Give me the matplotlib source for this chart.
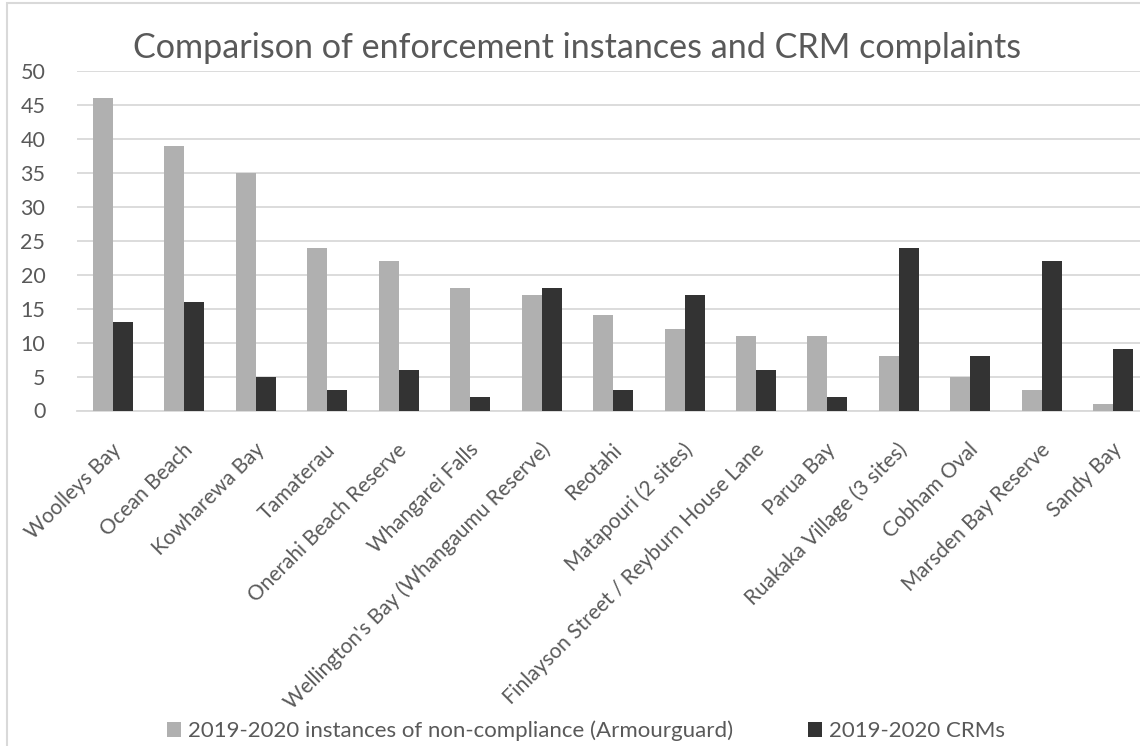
import matplotlib
matplotlib.use("Agg")
import matplotlib.pyplot as plt
import matplotlib.transforms as mtransforms
import numpy as np
from matplotlib.patches import Rectangle

categories = ["Woolleys Bay", "Ocean Beach", "Kowharewa Bay", "Tamaterau",
              "Onerahi Beach Reserve", "Whangarei Falls",
              "Wellington's Bay (Whangaumu Reserve)", "Reotahi",
              "Matapouri (2 sites)", "Finlayson Street / Reyburn House Lane",
              "Parua Bay", "Ruakaka Village (3 sites)", "Cobham Oval",
              "Marsden Bay Reserve", "Sandy Bay"]
noncompliance = [46, 39, 35, 24, 22, 18, 17, 14, 12, 11, 11, 8, 5, 3, 1]
crms = [13, 16, 5, 3, 6, 2, 18, 3, 17, 6, 2, 24, 8, 22, 9]
series_labels = ["2019-2020 instances of non-compliance (Armourguard)", "2019-2020 CRMs"]
yticks = [0, 5, 10, 15, 20, 25, 30, 35, 40, 45, 50]

plt.rcParams['font.family'] = ['Lato', 'DejaVu Sans']
txt = "#595959"
W, H = 1140, 746

fig = plt.figure(figsize=(W/100, H/100), dpi=100)
L, R, T, B = 77.3, 1148.9, 71, 410.5
ax = fig.add_axes([L/W, 1 - B/H, (R - L)/W, (B - T)/H])

x = np.arange(len(categories))
w = 0.28
ax.bar(x - w/2, noncompliance, w, color="#b0b0b0", label=series_labels[0], zorder=3)
ax.bar(x + w/2, crms, w, color="#333333", label=series_labels[1], zorder=3)

ax.set_xlim(-0.5, len(categories) - 0.5)
ax.set_ylim(0, 50)
ax.set_yticks(yticks)
ax.set_yticklabels([str(v) for v in yticks], fontsize=15.5, color=txt)
ax.yaxis.grid(True, color="#d9d9d9", linewidth=1.3, zorder=0)
ax.set_axisbelow(True)
for s in ["top", "right", "left"]:
    ax.spines[s].set_visible(False)
ax.spines["bottom"].set_color("#d9d9d9")
ax.spines["bottom"].set_linewidth(1.3)
ax.tick_params(axis="y", length=0, pad=23)
ax.tick_params(axis="x", length=0, pad=26)
ax.set_xticks(x)
ax.set_xticklabels(categories, rotation=45, ha="right", va="center",
                   rotation_mode="anchor", fontsize=15, color=txt)
shift = mtransforms.ScaledTranslation(5/100, 0, fig.dpi_scale_trans)
for lab in ax.get_xticklabels():
    lab.set_transform(lab.get_transform() + shift)

fig.text(577/W, 1 - 48/H, "Comparison of enforcement instances and CRM complaints",
         ha="center", va="center", fontsize=24.6, color=txt)

fig.legend(loc="center", bbox_to_anchor=(586/W, 1 - 731/H), ncol=2, frameon=False,
           fontsize=16, labelcolor=txt, handlelength=0.62, handleheight=0.62,
           handletextpad=0.32, columnspacing=3.4, borderpad=0, borderaxespad=0)

fig.patches.append(Rectangle((7/W, -0.05), 1.2, 1 - 3/H + 0.05,
                             transform=fig.transFigure, fill=False,
                             edgecolor="#d9d9d9", linewidth=1.5))

fig.savefig("out.png", dpi=100, facecolor="white")
